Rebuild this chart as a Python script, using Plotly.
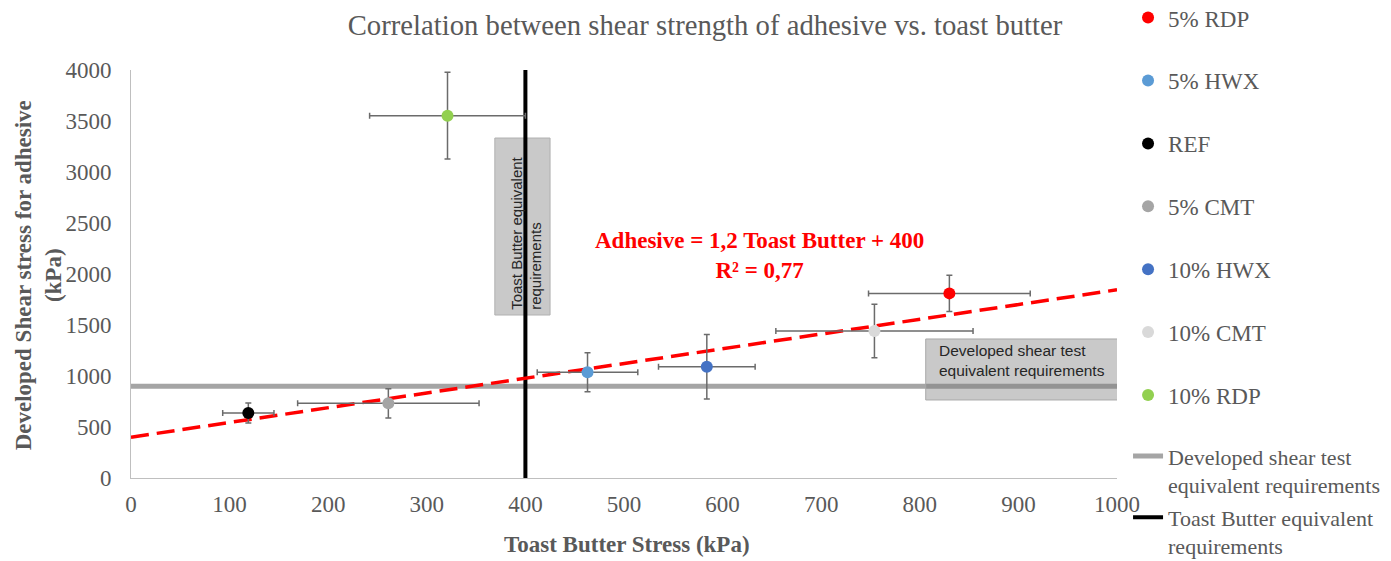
import plotly.graph_objects as go

# ---- data ----
series_names = ["5% RDP", "5% HWX", "REF", "5% CMT", "10% HWX", "10% CMT", "10% RDP"]
series_colors = ["#ff0000", "#5b9bd5", "#000000", "#a5a5a5", "#4472c4", "#d9d9d9", "#92d050"]
toast_x = [830, 463, 119, 261, 584, 754, 321]
adhesive_y = [1810, 1036, 637, 732, 1091, 1441, 3552]
toast_err = [82, 51, 26, 92, 49, 100, 79]
adhesive_err = [178, 191, 98, 144, 317, 262, 425]

trend_x = [0, 1000]
trend_y = [400, 1845]

shear_req_x = [0, 1000]
shear_req_y = [900, 900]
toast_req_x = [400, 400]
toast_req_y = [0, 4000]

x_ticks = list(range(0, 1001, 100))
y_ticks = list(range(0, 4001, 500))

SERIF = "Liberation Serif, Times New Roman, serif"
SANS = "Liberation Sans, Arial, sans-serif"
TXT = "#595959"

fig = go.Figure()

# requirement lines (legend 2)
fig.add_trace(go.Scatter(
    x=shear_req_x, y=shear_req_y, mode="lines",
    line=dict(color="#a5a5a5", width=5),
    name="Developed shear test<br>equivalent requirements",
    legend="legend2", legendgroup="g1", hoverinfo="skip"))
fig.add_trace(go.Scatter(
    x=toast_req_x, y=toast_req_y, mode="lines",
    line=dict(color="#000000", width=4),
    name="Toast Butter equivalent<br>requirements",
    legend="legend2", legendgroup="g2", hoverinfo="skip"))

# trend line
fig.add_trace(go.Scatter(
    x=trend_x, y=trend_y, mode="lines",
    line=dict(color="#ff0000", width=3.5, dash="18px,8px"),
    showlegend=False, hoverinfo="skip"))

# data points
for i, nm in enumerate(series_names):
    fig.add_trace(go.Scatter(
        x=[toast_x[i]], y=[adhesive_y[i]], mode="markers",
        name=nm, legendgroup="s%d" % i,
        marker=dict(color=series_colors[i], size=12),
        error_x=dict(type="data", array=[toast_err[i]], color="#6b6b6b",
                     thickness=1.5, width=3),
        error_y=dict(type="data", array=[adhesive_err[i]], color="#6b6b6b",
                     thickness=1.5, width=3),
    ))

# boxes (annotations background)
tb_box = dict(x0=369, x1=425, y0=1598, y1=3333)
ds_box = dict(x0=806, x1=1002, y0=765, y1=1363)
fig.add_shape(type="rect", xref="x", yref="y", layer="below",
              fillcolor="#c9c9c9", line=dict(color="#b0b0b0", width=1), **tb_box)
fig.add_shape(type="rect", xref="x", yref="y", layer="above",
              fillcolor="rgba(120,120,120,0.4)", line=dict(color="#a8a8a8", width=1), **ds_box)

fig.add_annotation(x=(tb_box["x0"] + tb_box["x1"]) / 2 + 4, y=tb_box["y0"] + 30,
                   xref="x", yref="y", text="Toast Butter equivalent<br>requirements",
                   textangle=-90, showarrow=False, align="left",
                   xanchor="center", yanchor="bottom",
                   font=dict(family=SANS, size=15, color="#262626"))
fig.add_annotation(x=ds_box["x0"] + 11, y=(ds_box["y0"] + ds_box["y1"]) / 2 + 90,
                   xref="x", yref="y", text="Developed shear test<br>equivalent requirements",
                   showarrow=False, align="left", xanchor="left", yanchor="middle",
                   font=dict(family=SANS, size=15.5, color="#262626"))

# equation
fig.add_annotation(x=637, y=2186, xref="x", yref="y",
                   text="<b>Adhesive = 1,2 Toast Butter + 400<br>R² = 0,77</b>",
                   showarrow=False, align="center",
                   font=dict(family=SERIF, size=23, color="#ff0000"))

# axis titles
fig.add_annotation(x=0.503, y=-0.164, xref="paper", yref="paper",
                   text="<b>Toast Butter Stress (kPa)</b>", showarrow=False,
                   xanchor="center", yanchor="middle",
                   font=dict(family=SERIF, size=23, color=TXT))
fig.add_annotation(x=-0.094, y=0.4975, xref="paper", yref="paper",
                   text="<b>Developed Shear stress for adhesive<br>(kPa)</b>",
                   showarrow=False, textangle=-90, xanchor="center", yanchor="middle",
                   font=dict(family=SERIF, size=23, color=TXT))

fig.update_layout(
    width=1383, height=553,
    margin=dict(l=123, r=274, t=62, b=83, autoexpand=False),
    paper_bgcolor="white", plot_bgcolor="white",
    title=dict(text="Correlation between shear strength of adhesive vs. toast butter",
               x=0.504, y=1 - 17 / 553, xanchor="center", yanchor="middle",
               xref="container", yref="container",
               font=dict(family=SERIF, size=28.7, color=TXT)),
    xaxis=dict(range=[0, 1000], tickvals=x_ticks, showgrid=False, zeroline=False,
               showline=True, linecolor="#bfbfbf", linewidth=1, ticks="",
               ticklabelstandoff=5,
               tickfont=dict(family=SERIF, size=23, color=TXT)),
    yaxis=dict(range=[0, 4000], tickvals=y_ticks, showgrid=False, zeroline=False,
               showline=True, linecolor="#bfbfbf", linewidth=1, ticks="",
               ticklabelstandoff=14,
               tickfont=dict(family=SERIF, size=23, color=TXT)),
    legend=dict(x=1.0112, y=1.181, xanchor="left", yanchor="top",
                traceorder="grouped", tracegroupgap=30, maxheight=600,
                font=dict(family=SERIF, size=23, color=TXT),
                bgcolor="rgba(0,0,0,0)", borderwidth=0),
    legend2=dict(x=1.0112, y=0.105, xanchor="left", yanchor="top",
                 traceorder="grouped", tracegroupgap=1, valign="top", maxheight=600,
                 font=dict(family=SERIF, size=22, color=TXT),
                 bgcolor="rgba(0,0,0,0)", borderwidth=0),
    showlegend=True,
)

fig.write_html("out.html")
